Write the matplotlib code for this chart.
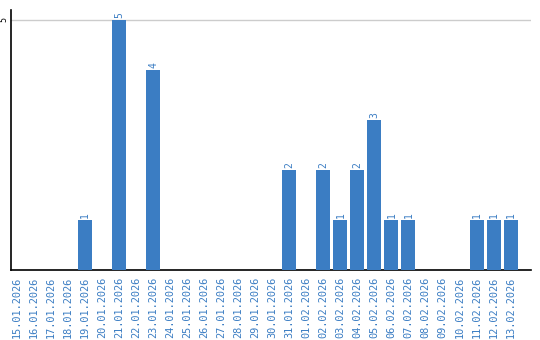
import matplotlib
matplotlib.use("Agg")
import matplotlib.pyplot as plt
import numpy as np

dates = ["15.01.2026","16.01.2026","17.01.2026","18.01.2026","19.01.2026","20.01.2026",
         "21.01.2026","22.01.2026","23.01.2026","24.01.2026","25.01.2026","26.01.2026",
         "27.01.2026","28.01.2026","29.01.2026","30.01.2026","31.01.2026","01.02.2026",
         "02.02.2026","03.02.2026","04.02.2026","05.02.2026","06.02.2026","07.02.2026",
         "08.02.2026","09.02.2026","10.02.2026","11.02.2026","12.02.2026","13.02.2026"]
values = [0,0,0,0,1,0,5,0,4,0,0,0,0,0,0,0,2,0,2,1,2,3,1,1,0,0,0,1,1,1]

bar_color = "#3b7dc3"
text_color = "#3b7dc3"

fig = plt.figure(figsize=(5.4, 3.4), dpi=100)
ax = fig.add_axes([11/540, 1-270/340, (531-11)/540, 260/340])

x = np.arange(len(dates))
ax.bar(x, values, width=0.82, color=bar_color, zorder=3)
for xi, v in zip(x, values):
    if v > 0:
        ax.text(xi, v + 0.04, str(v), rotation=90, ha="center", va="bottom",
                color=text_color, fontsize=7, family="DejaVu Sans Mono")

ax.set_xlim(-0.35, 30.2)
ax.set_ylim(0, 5.2)
ax.set_yticks([5])
ax.set_yticklabels(["5"], rotation=90, va="center", fontsize=6, family="DejaVu Sans Mono")
ax.yaxis.grid(True, color="#cccccc", linewidth=1, zorder=0)
ax.tick_params(axis="y", length=0, pad=2)
ax.set_xticks(x)
ax.set_xticklabels(dates, rotation=90, color=text_color, fontsize=7.4, family="DejaVu Sans Mono")
ax.tick_params(axis="x", length=0, pad=5)
for s in ["top", "right"]:
    ax.spines[s].set_visible(False)
ax.spines["left"].set_color("black")
ax.spines["bottom"].set_color("black")
ax.spines["left"].set_linewidth(1.2)
ax.spines["bottom"].set_linewidth(1.2)

fig.savefig("out.png", dpi=100)
